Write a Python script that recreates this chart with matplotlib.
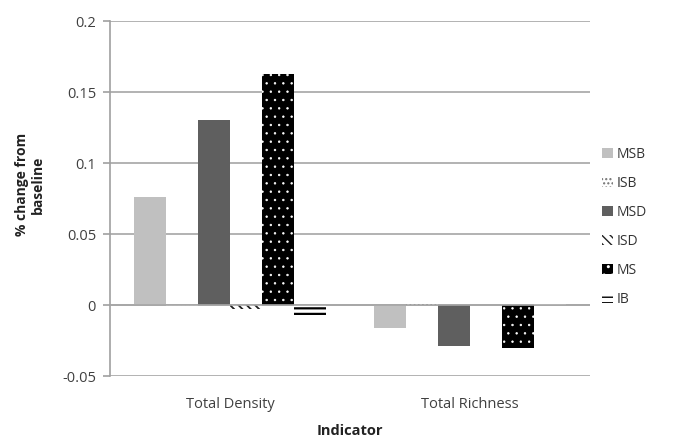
import matplotlib.pyplot as plt
import numpy as np

plt.rcParams['font.family'] = ['Open Sans', 'DejaVu Sans']

categories = ["Total Density", "Total Richness"]
series = ["MSB", "ISB", "MSD", "ISD", "MS", "IB"]
values = {
    "MSB": [0.076, -0.016],
    "ISB": [-0.001, 0.001],
    "MSD": [0.130, -0.029],
    "ISD": [-0.003, 0.0],
    "MS": [0.163, -0.030],
    "IB": [-0.009, 0.001],
}
yticks = [-0.05, 0, 0.05, 0.1, 0.15, 0.2]
ytick_labels = ["-0.05", "0", "0.05", "0.1", "0.15", "0.2"]

# fill, hatch, hatch colour, hatch width per series
styles = {
    "MSB": ("#c0c0c0", None, "#c0c0c0", 1.0),
    "ISB": ("white", "....", "#707070", 0.8),
    "MSD": ("#5f5f5f", None, "#5f5f5f", 1.0),
    "ISD": ("white", "\\\\\\\\", "#202020", 1.3),
    "MS": ("black", "..", "white", 0.5),
    "IB": ("white", "---", "black", 1.6),
}

fig = plt.figure(figsize=(6.94, 4.48), dpi=100)
ax = fig.add_axes([0.1585, 0.1607, 0.6915, 0.7923])

x = np.arange(len(categories))
width = 0.8 / len(series)
for i, name in enumerate(series):
    face, hatch, hc, hw = styles[name]
    with plt.rc_context({'hatch.linewidth': hw}):
        ax.bar(x - 0.4 + width * (i + 0.5), values[name], width,
               color=face, hatch=hatch, edgecolor=hc, linewidth=0,
               label=name, zorder=3)

ax.set_xlim(-0.5, 1.5)
ax.set_ylim(-0.05, 0.2)
ax.set_yticks(yticks)
ax.set_yticklabels(ytick_labels, fontsize=10.5, color="#404040")
ax.set_xticks(x)
ax.set_xticklabels(categories, fontsize=10.5, color="#404040")
ax.tick_params(axis="x", length=0, pad=15)
ax.tick_params(axis="y", length=5, color="#a0a0a0", width=1.2, pad=5)
ax.yaxis.grid(True, color="#a6a6a6", linewidth=1.2, zorder=0)
ax.axhline(0, color="#a6a6a6", linewidth=1.2, zorder=4)
for s in ["top", "right", "bottom"]:
    ax.spines[s].set_visible(False)
ax.spines["left"].set_color("#a0a0a0")
ax.spines["left"].set_linewidth(1.2)

ax.set_ylabel("% change from\nbaseline", fontsize=10, fontweight="bold",
              color="#222222")
ax.yaxis.set_label_coords(-0.135, 0.54)
ax.set_xlabel("Indicator", fontsize=10.5, fontweight="bold",
              color="#222222", labelpad=9)

ax.legend(loc="center left", bbox_to_anchor=(1.0, 0.42), frameon=False,
          fontsize=10, handlelength=0.75, handleheight=0.75,
          handletextpad=0.3, labelspacing=1.0, labelcolor="#333333")

plt.savefig("out.png", dpi=100)
plt.close()
